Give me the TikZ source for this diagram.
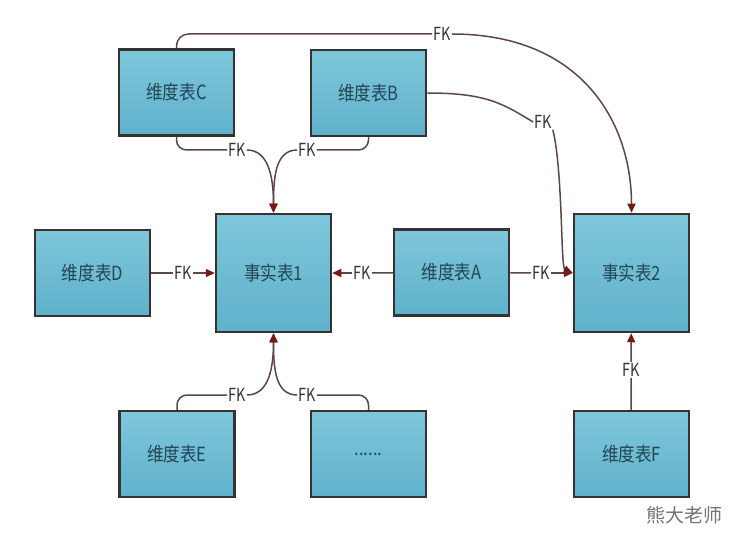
\documentclass[tikz,border=0pt]{standalone}
\usepackage{fontspec}
\usetikzlibrary{arrows.meta}
\setmainfont{Noto Sans CJK SC}
\newfontfamily\tablefont[FakeStretch=0.85]{Noto Sans CJK SC}
\newfontfamily\fkfont[FakeStretch=0.8]{Noto Sans CJK SC}
\definecolor{boxtop}{RGB}{126,199,219}
\definecolor{boxbot}{RGB}{95,177,203}
\definecolor{boxline}{RGB}{55,50,50}
\definecolor{linkline}{RGB}{95,70,70}
\definecolor{tipred}{RGB}{120,25,25}
\definecolor{labeltext}{RGB}{35,70,85}

\begin{document}
\begin{tikzpicture}[x=1pt,y=-1pt,
    tbl/.style={rectangle,draw=boxline,line width=2.5pt,top color=boxtop,bottom color=boxbot,
        minimum width=115pt,minimum height=86pt,inner sep=0pt,
        font=\tablefont\fontsize{19.5}{19.5}\selectfont,text=labeltext},
    fact/.style={tbl,minimum height=118pt},
    fk/.style={inner sep=1pt,font=\fkfont\fontsize{18}{18}\selectfont,text=black!80},
    link/.style={draw=linkline,line width=1.5pt},
    tip/.style={link,-{Triangle[length=9pt,width=8pt,color=tipred]}}]
    \fill[white] (0,0) rectangle (735,534);

    \node[tbl] (C) at (176.5,92.5) {维度表C};
    \node[tbl] (B) at (368.5,93) {维度表B};
    \node[tbl] (D) at (92.5,273) {维度表D};
    \node[fact] (F1) at (273.5,273) {事实表1};
    \node[tbl] (A) at (451.5,272.5) {维度表A};
    \node[fact] (F2) at (631.5,273) {事实表2};
    \node[tbl] (E) at (177,454) {维度表E};
    \node[tbl] (X) at (368.5,454) {......};
    \node[tbl] (F) at (631.5,454) {维度表F};

    \node[fk] (fkD) at (183,273) {FK};
    \node[fk] (fkA1) at (362,273) {FK};
    \node[fk] (fkA2) at (541,273) {FK};
    \node[fk] (fkF) at (631,370) {FK};
    \node[fk] (fkC) at (237,150) {FK};
    \node[fk] (fkB) at (307,150) {FK};
    \node[fk] (fkE) at (237,395) {FK};
    \node[fk] (fkX) at (307,395) {FK};
    \node[fk] (fkT) at (442,34) {FK};
    \node[fk] (fkR) at (543,122) {FK};

    \node[font=\fontsize{19}{19}\selectfont,text=black!55] (mark) at (684,515) {熊大老师};

    \draw[link] (D) -- (fkD);
    \draw[tip] (fkD) -- (F1);
    \draw[link] (A) -- (fkA1);
    \draw[tip] (fkA1) -- (F1);
    \draw[link] (A) -- (fkA2);
    \draw[tip] (fkA2) -- (F2);
    \draw[link] (F) -- (fkF);
    \draw[tip] (fkF) -- (F2);

    \draw[link,rounded corners=10pt] (C.south) |- (fkC.west);
    \draw[tip] (fkC.east) .. controls +(22,0) and +(0,-35) .. (F1.north);
    \draw[link,rounded corners=10pt] (B.south) |- (fkB.east);
    \draw[tip] (fkB.west) .. controls +(-22,0) and +(0,-35) .. (F1.north);
    \draw[link,rounded corners=10pt] (E.north) |- (fkE.west);
    \draw[tip] (fkE.east) .. controls +(22,0) and +(0,35) .. (F1.south);
    \draw[link,rounded corners=10pt] (X.north) |- (fkX.east);
    \draw[tip] (fkX.west) .. controls +(-22,0) and +(0,35) .. (F1.south);

    \draw[link,rounded corners=12pt] (C.north) |- (fkT.west);
    \draw[tip] (fkT.east) .. controls +(130,0) and +(0,-90) .. (F2.north);
    \draw[link] (B.east) .. controls +(60,0) and +(-30,-18) .. (fkR.west);
    \draw[tip] (fkR.south east) .. controls +(10,40) and +(-12,-5) .. (F2.west);
\end{tikzpicture}
\end{document}
